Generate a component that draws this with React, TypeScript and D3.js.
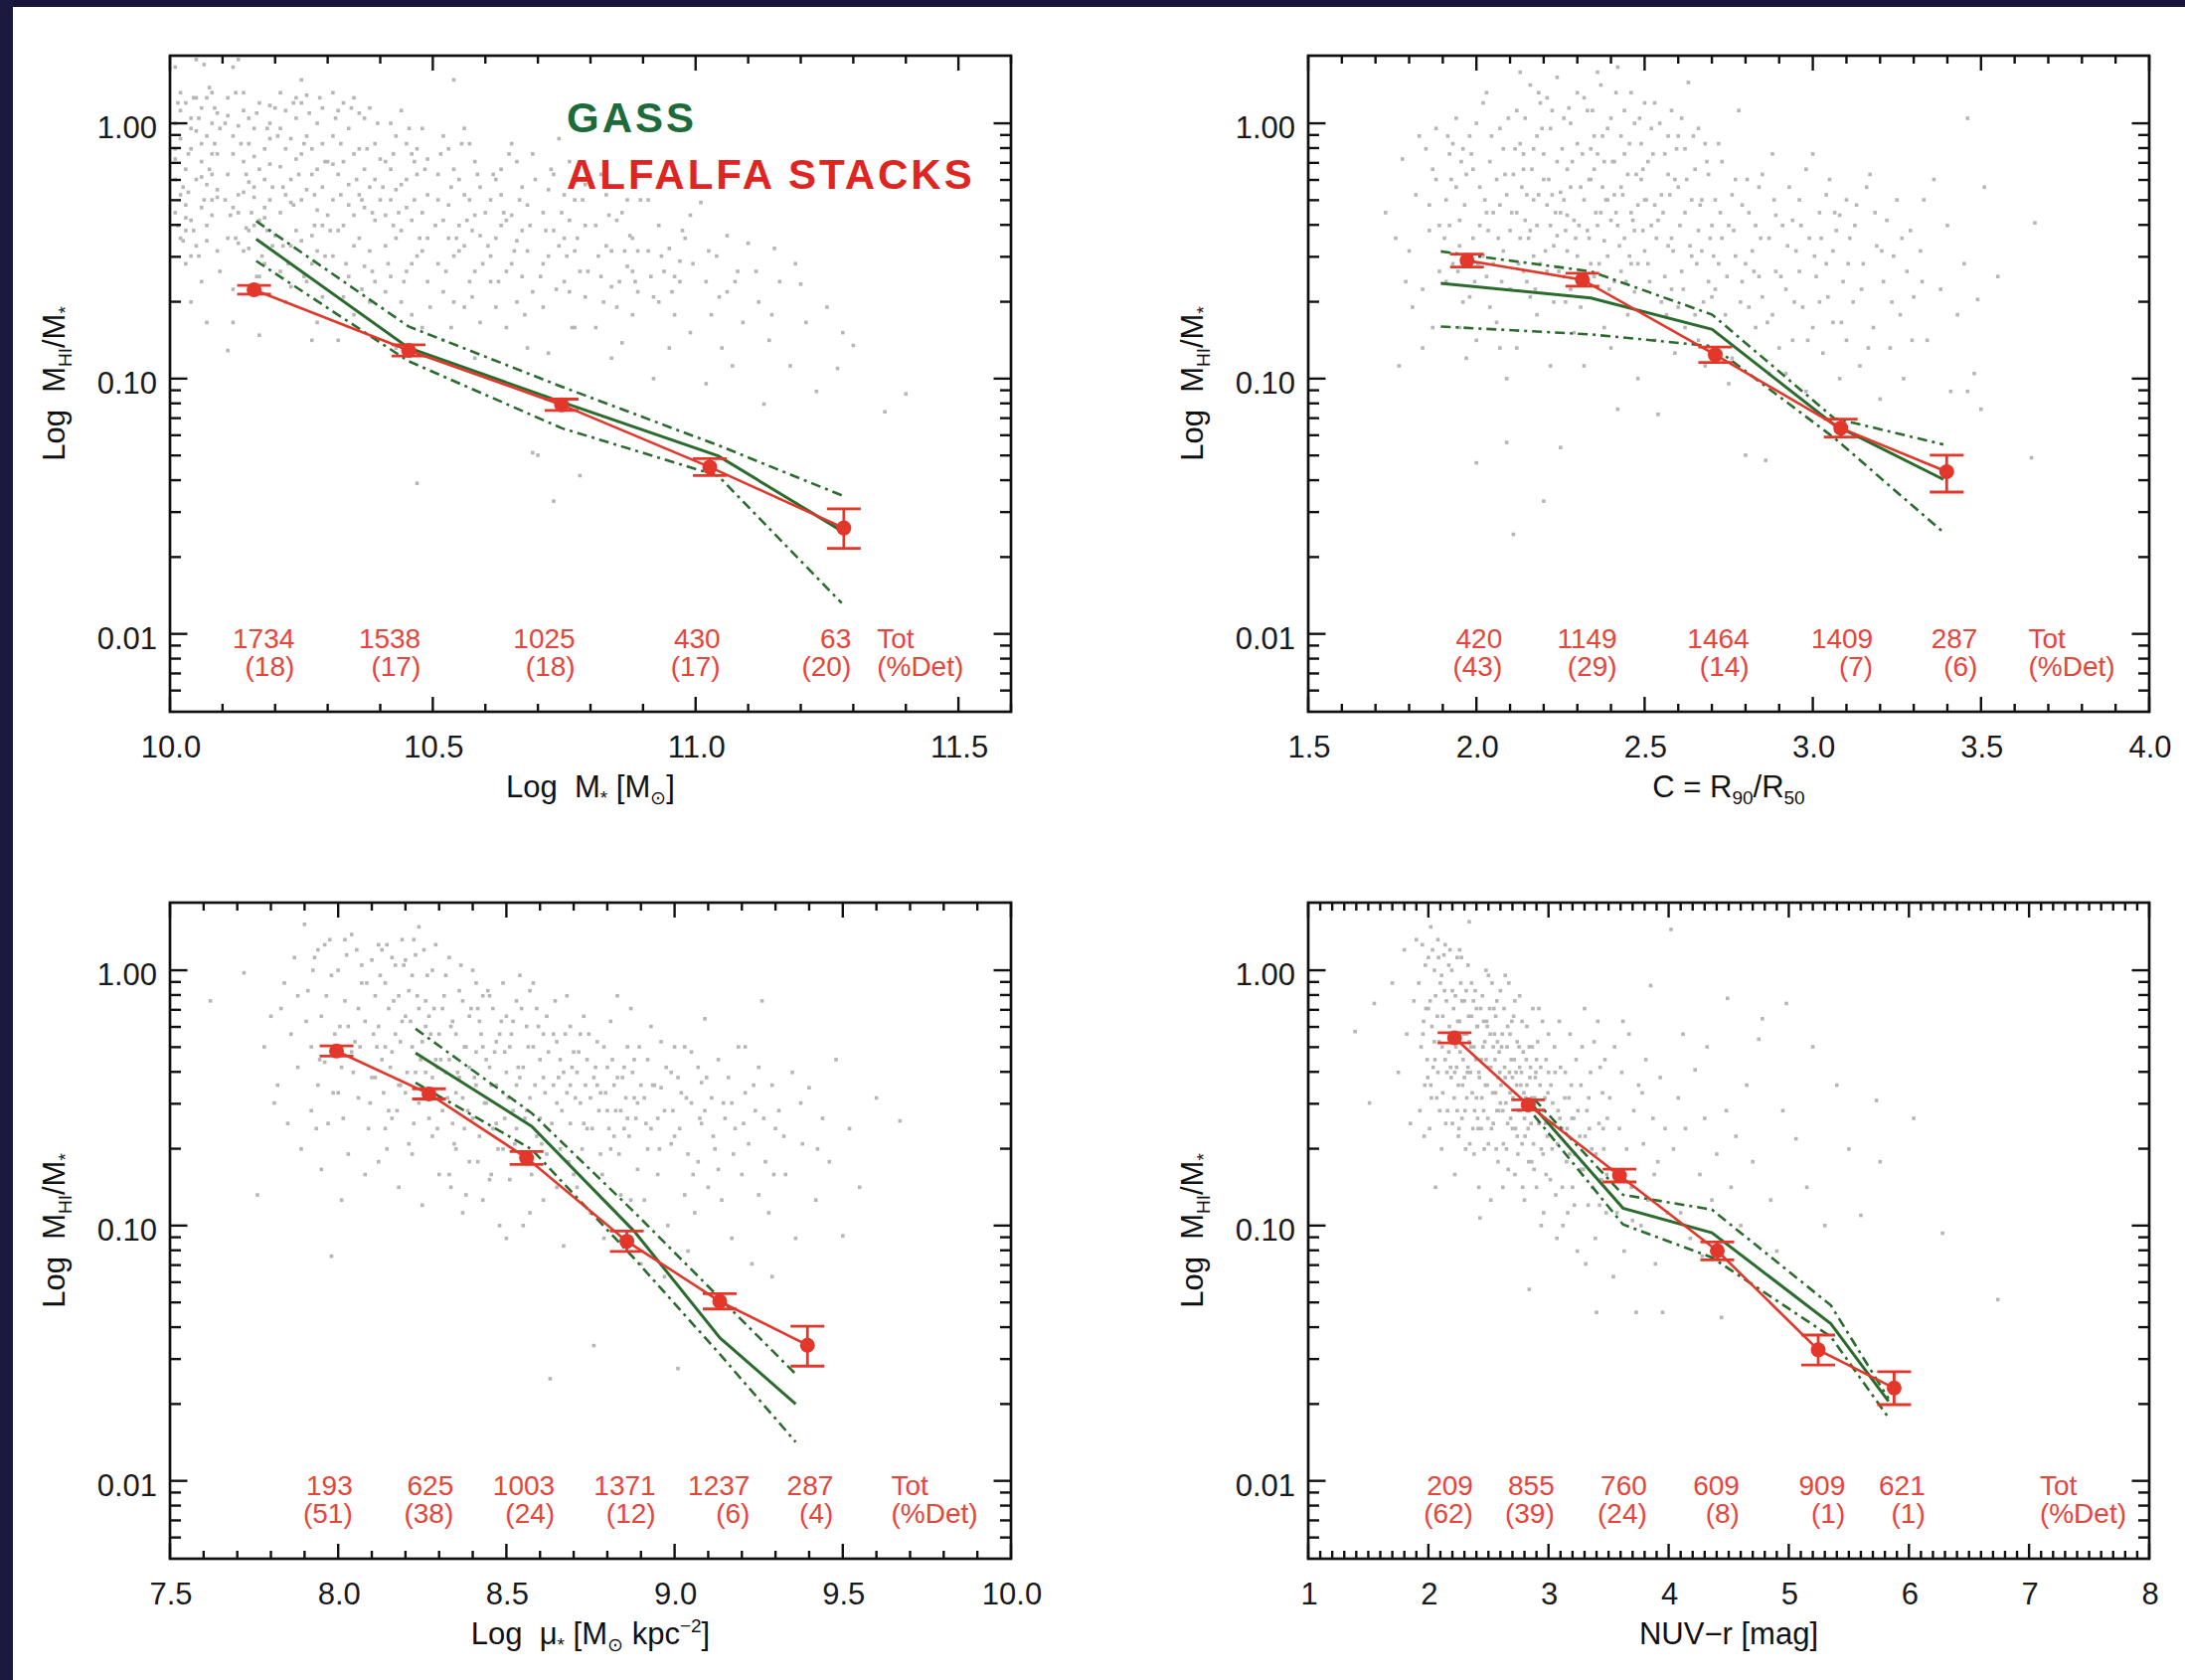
import React from 'react';
import * as d3 from 'd3';

const W = 2198;
const H = 1690;
const FONT = "'Liberation Sans', Arial, Helvetica, sans-serif";
const Y_LOG: [number, number] = [-2.305, 0.265];

// ---------------- tick labels ----------------
const yTickVals = [0.01, 0.1, 1];
const yTickLabels = ['0.01', '0.10', '1.00'];
const p1XTicks = [10.0, 10.5, 11.0, 11.5];
const p1XLabels = ['10.0', '10.5', '11.0', '11.5'];
const p2XTicks = [1.5, 2.0, 2.5, 3.0, 3.5, 4.0];
const p2XLabels = ['1.5', '2.0', '2.5', '3.0', '3.5', '4.0'];
const p3XTicks = [7.5, 8.0, 8.5, 9.0, 9.5, 10.0];
const p3XLabels = ['7.5', '8.0', '8.5', '9.0', '9.5', '10.0'];
const p4XTicks = [1, 2, 3, 4, 5, 6, 7, 8];
const p4XLabels = ['1', '2', '3', '4', '5', '6', '7', '8'];

// ---------------- panel 1: Log M* ----------------
const p1StackX = [10.16, 10.454, 10.745, 11.027, 11.282];
const p1StackF = [0.223, 0.129, 0.079, 0.045, 0.026];
const p1ErrLo = [0.017, 0.022, 0.022, 0.033, 0.08];
const p1ErrHi = [0.017, 0.022, 0.022, 0.033, 0.075];
const p1GassX = [10.164, 10.454, 10.745, 11.043, 11.278];
const p1GassMed = [0.352, 0.132, 0.081, 0.0498, 0.0253];
const p1GassHi = [0.414, 0.16, 0.093, 0.0548, 0.0349];
const p1GassLo = [0.289, 0.117, 0.064, 0.0416, 0.0132];
const p1Counts = ['1734', '1538', '1025', '430', '63'];
const p1Det = ['(18)', '(17)', '(18)', '(17)', '(20)'];
const p1CountX = [10.237, 10.477, 10.771, 11.047, 11.296];
const p1TotX = 11.345;

// ---------------- panel 2: concentration ----------------
const p2StackX = [1.972, 2.315, 2.71, 3.083, 3.398];
const p2StackF = [0.29, 0.244, 0.124, 0.064, 0.0432];
const p2ErrLo = [0.025, 0.025, 0.03, 0.035, 0.08];
const p2ErrHi = [0.025, 0.025, 0.03, 0.035, 0.065];
const p2GassX = [1.894, 2.34, 2.701, 3.063, 3.388];
const p2GassMed = [0.236, 0.207, 0.156, 0.066, 0.0403];
const p2GassHi = [0.315, 0.263, 0.178, 0.07, 0.0552];
const p2GassLo = [0.16, 0.149, 0.134, 0.0587, 0.025];
const p2Counts = ['420', '1149', '1464', '1409', '287'];
const p2Det = ['(43)', '(29)', '(14)', '(7)', '(6)'];
const p2CountX = [2.077, 2.418, 2.811, 3.179, 3.49];
const p2TotX = 3.641;

// ---------------- panel 3: Log mu* ----------------
const p3StackX = [7.995, 8.27, 8.56, 8.858, 9.134, 9.395];
const p3StackF = [0.483, 0.328, 0.184, 0.0868, 0.0505, 0.034];
const p3ErrLo = [0.02, 0.02, 0.025, 0.04, 0.03, 0.082];
const p3ErrHi = [0.02, 0.02, 0.025, 0.04, 0.03, 0.074];
const p3GassX = [8.23, 8.575, 8.88, 9.135, 9.36];
const p3GassMed = [0.474, 0.245, 0.095, 0.0363, 0.02];
const p3GassHi = [0.59, 0.276, 0.113, 0.0519, 0.0262];
const p3GassLo = [0.363, 0.199, 0.0743, 0.0313, 0.0142];
const p3Counts = ['193', '625', '1003', '1371', '1237', '287'];
const p3Det = ['(51)', '(38)', '(24)', '(12)', '(6)', '(4)'];
const p3CountX = [8.043, 8.343, 8.644, 8.944, 9.224, 9.472];
const p3TotX = 9.644;

// ---------------- panel 4: NUV-r ----------------
const p4StackX = [2.218, 2.831, 3.591, 4.405, 5.245, 5.877];
const p4StackF = [0.544, 0.297, 0.157, 0.0796, 0.0326, 0.0231];
const p4ErrLo = [0.02, 0.02, 0.025, 0.035, 0.059, 0.065];
const p4ErrHi = [0.02, 0.02, 0.025, 0.035, 0.058, 0.064];
const p4GassX = [2.88, 3.62, 4.36, 5.35, 5.83];
const p4GassMed = [0.291, 0.117, 0.0938, 0.0413, 0.0205];
const p4GassHi = [0.313, 0.132, 0.1155, 0.0487, 0.021];
const p4GassLo = [0.27, 0.101, 0.075, 0.0367, 0.0177];
const p4Counts = ['209', '855', '760', '609', '909', '621'];
const p4Det = ['(62)', '(39)', '(24)', '(8)', '(1)', '(1)'];
const p4CountX = [2.373, 3.05, 3.82, 4.59, 5.47, 6.136];
const p4TotX = 7.089;

// ---------------- scatter clouds: [x, log10(MHI/M*)] ----------------
const p1Scatter = [
[10.01,0.22],[10.03,-0.42],[10.02,0.05],[10.04,-0.02],[10.01,-0.10],[10.05,0.10],[10.06,-0.33],[10.03,-0.18],[10.07,-0.05],[10.02,-0.28],[10.08,0.12],[10.04,0.02],[10.09,-0.12],[10.01,-0.35],[10.05,-0.22],[10.06,-0.08],[10.03,0.08],[10.08,-0.30],[10.07,-0.46],[10.02,-0.45],[10.09,0.04],[10.04,-0.38],[10.06,-0.15],[10.01,0.00],[10.08,-0.20],[10.05,0.25],[10.03,-0.55],[10.07,-0.40],[10.09,-0.26],[10.02,0.12],[10.06,0.06],[10.04,-0.10],[10.08,0.00],[10.01,-0.22],[10.05,-0.48],[10.07,0.10],[10.03,-0.32],[10.09,-0.29],[10.06,-0.62],[10.02,-0.06],[10.04,-0.52],[10.08,-0.12],[10.05,-0.03],[10.07,-0.24],[10.09,-0.50],[10.03,-0.37],[10.06,-0.21],[10.01,-0.14],[10.08,-0.36],[10.04,-0.70],[10.07,-0.78],
[10.11,0.10],[10.12,-0.05],[10.13,-0.47],[10.14,-0.15],[10.15,0.02],[10.16,-0.25],[10.17,0.08],[10.18,-0.10],[10.19,-0.30],[10.11,-0.20],[10.12,0.22],[10.13,-0.35],[10.14,0.05],[10.15,-0.42],[10.16,-0.02],[10.17,-0.18],[10.18,-0.37],[10.19,-0.06],[10.11,-0.45],[10.12,-0.12],[10.13,-0.28],[10.14,0.12],[10.15,-0.08],[10.16,-0.29],[10.17,-0.38],[10.18,-0.55],[10.19,0.00],[10.11,0.03],[10.12,-0.33],[10.13,-0.01],[10.14,-0.50],[10.15,-0.49],[10.16,-0.13],[10.17,-0.60],[10.18,-0.22],[10.19,0.07],[10.12,-0.65],[10.14,-0.27],[10.16,-0.40],[10.18,-0.33],[10.11,-0.89],[10.17,-0.83],[10.15,-0.23],[10.13,0.25],[10.19,-0.16],[10.20,0.06],[10.20,-0.44],[10.12,-0.78],
[10.21,0.12],[10.22,-0.10],[10.23,-0.22],[10.24,0.02],[10.25,-0.30],[10.26,-0.05],[10.27,-0.44],[10.28,-0.18],[10.29,-0.40],[10.21,-0.35],[10.22,0.05],[10.23,-0.48],[10.24,-0.14],[10.25,0.08],[10.26,-0.26],[10.27,-0.55],[10.28,0.00],[10.29,-0.08],[10.21,-0.02],[10.22,-0.28],[10.23,-0.31],[10.24,-0.42],[10.25,-0.12],[10.26,-0.62],[10.27,-0.20],[10.28,-0.34],[10.29,0.06],[10.21,-0.58],[10.23,-0.06],[10.25,-0.46],[10.27,-0.10],[10.29,-0.25],[10.22,-0.70],[10.24,0.10],[10.26,0.11],[10.28,-0.50],[10.30,-0.15],[10.30,-0.36],[10.27,-0.85],[10.23,-0.64],[10.25,0.17],[10.29,-0.68],[10.21,-0.17],[10.28,-0.78],
[10.31,-0.05],[10.32,-0.20],[10.33,0.08],[10.34,-0.32],[10.35,-0.12],[10.36,-0.45],[10.37,0.02],[10.38,-0.25],[10.39,-0.38],[10.31,-0.52],[10.32,0.05],[10.33,-0.15],[10.34,-0.60],[10.35,0.10],[10.36,-0.28],[10.37,-0.18],[10.38,-0.50],[10.39,-0.08],[10.31,-0.30],[10.32,-0.42],[10.33,-0.68],[10.34,-0.02],[10.35,-0.36],[10.36,-0.10],[10.37,-0.56],[10.38,0.06],[10.39,-0.22],[10.31,-0.16],[10.33,-0.40],[10.35,-0.75],[10.37,-0.33],[10.39,-0.62],[10.32,-0.85],[10.34,-0.24],[10.36,0.04],[10.38,-0.70],[10.40,-0.30],[10.40,-0.14],[10.35,-0.48],[10.31,0.12],
[10.41,-0.15],[10.42,-0.30],[10.43,-0.05],[10.44,-0.42],[10.45,-0.22],[10.46,-0.55],[10.47,-0.10],[10.48,-0.35],[10.49,-0.62],[10.41,-0.48],[10.42,0.00],[10.43,-0.26],[10.44,-0.70],[10.45,-0.08],[10.46,-0.38],[10.47,-0.20],[10.48,-0.80],[10.49,-0.28],[10.41,-0.66],[10.42,-0.18],[10.43,-0.45],[10.44,0.05],[10.45,-0.58],[10.46,-0.12],[10.47,-1.41],[10.48,-0.02],[10.49,-0.45],[10.41,-0.36],[10.43,-0.88],[10.45,-0.33],[10.47,-0.52],[10.49,-0.14],[10.42,-0.60],[10.44,-0.24],[10.46,-0.75],[10.48,-0.50],
[10.51,-0.20],[10.52,-0.38],[10.53,-0.10],[10.54,0.17],[10.55,-0.50],[10.56,-0.28],[10.57,-0.62],[10.58,-0.15],[10.59,-0.44],[10.51,-0.55],[10.52,-0.05],[10.53,-0.32],[10.54,-0.70],[10.55,-0.22],[10.56,-0.48],[10.57,-0.08],[10.58,-0.36],[10.59,-0.78],[10.51,-0.30],[10.52,-0.66],[10.53,-0.45],[10.54,-0.18],[10.55,-0.40],[10.56,-0.02],[10.57,-0.30],[10.58,-0.58],[10.59,-0.25],[10.52,-0.85],[10.54,-0.52],[10.56,-0.72],[10.58,-0.92],[10.60,-0.35],
[10.61,-0.30],[10.62,-0.45],[10.63,-0.18],[10.64,-0.58],[10.65,-0.36],[10.66,-0.70],[10.67,-0.25],[10.68,-0.50],[10.69,-0.12],[10.61,-0.62],[10.62,-0.22],[10.63,-0.40],[10.64,-0.80],[10.65,-0.08],[10.66,-0.46],[10.67,-0.60],[10.68,-0.32],[10.69,-1.29],[10.61,-0.52],[10.62,-0.72],[10.63,-0.28],[10.65,-0.55],[10.66,-0.15],[10.67,-0.42],[10.68,-0.88],[10.69,-0.66],[10.70,-1.30],[10.64,-0.38],
[10.71,-0.35],[10.72,-0.52],[10.73,-0.20],[10.74,-0.06],[10.75,-0.45],[10.76,-0.66],[10.77,-0.30],[10.78,-0.58],[10.79,-0.40],[10.71,-0.72],[10.72,-0.26],[10.73,-1.48],[10.74,-0.48],[10.75,-0.62],[10.76,-0.38],[10.77,-0.80],[10.78,-1.38],[10.79,-0.24],[10.71,-0.55],[10.73,-0.42],[10.75,-0.28],[10.77,-0.50],[10.79,-0.68],[10.72,-0.90],[10.76,-0.15],
[10.81,-0.40],[10.82,-0.60],[10.83,-0.28],[10.84,-0.50],[10.85,-0.72],[10.86,-0.35],[10.87,-0.56],[10.88,-0.45],[10.89,-0.66],[10.81,-0.80],[10.82,-0.20],[10.83,-0.48],[10.84,-0.64],[10.85,-0.38],[10.86,-0.86],[10.87,-0.30],[10.88,-0.58],[10.89,-0.50],[10.84,-0.92],[10.88,-0.75],
[10.91,-0.50],[10.92,-0.68],[10.93,-0.40],[10.94,-0.58],[10.95,-0.49],[10.96,-0.75],[10.97,-0.62],[10.98,-0.45],[10.99,-0.82],[10.91,-0.30],[10.93,-0.70],[10.95,-0.88],[10.97,-0.54],[10.99,-0.36],[10.92,-1.00],[10.96,-0.60],
[11.01,-0.31],[11.02,-0.62],[11.03,-0.75],[11.04,-0.52],[11.05,-0.88],[11.06,-0.66],[11.07,-0.95],[11.08,-0.58],[11.09,-0.78],[11.02,-1.02],[11.06,-0.44],[11.10,-0.47],
[11.12,-0.70],[11.14,-0.85],[11.15,-0.49],[11.16,-0.62],[11.18,-0.95],[11.20,-0.63],[11.21,-0.78],[11.23,-1.05],[11.25,-0.72],[11.27,-0.96],[11.28,-0.82],[11.30,-0.87],[11.13,-1.10],[11.19,-0.55],
[11.36,-1.13],[11.40,-1.06],
[10.015,0.08],[10.025,-0.25],[10.035,-0.27],[10.045,-0.42],[10.055,0.02],[10.065,-0.30],[10.075,0.14],[10.085,-0.08],[10.095,-0.58],[10.015,-0.40],[10.025,-0.46],[10.035,-0.12],[10.045,0.10],[10.055,-0.52],[10.065,0.23],[10.075,-0.18],[10.085,0.06],[10.095,-0.02],
[10.105,-0.30],[10.115,-0.36],[10.125,-0.45],[10.135,-0.08],[10.145,-0.41],[10.155,-0.35],[10.165,0.04],[10.175,-0.52],[10.185,-0.02],[10.195,-0.48],[10.105,0.00],[10.125,0.12],[10.145,-0.20],[10.165,-0.60],[10.185,-0.42],[10.195,-0.25],
[10.205,-0.05],[10.215,-0.48],[10.225,-0.55],[10.235,-0.32],[10.245,-0.20],[10.255,-0.60],[10.265,0.04],[10.275,-0.40],[10.285,0.10],[10.295,-0.15],[10.215,-0.25],[10.235,0.08],[10.255,-0.08],[10.275,-0.28],[10.295,-0.52],
[10.305,-0.42],[10.315,0.02],[10.325,-0.28],[10.335,-0.55],[10.345,0.06],[10.355,-0.22],[10.365,-0.65],[10.375,-0.10],[10.385,-0.35],[10.395,0.00],[10.325,-0.08],[10.365,-0.30],[10.385,-0.58],
[10.405,-0.25],[10.415,-0.55],[10.425,-0.12],[10.435,-0.35],[10.445,-0.62],[10.455,-0.02],[10.465,-0.30],[10.475,-0.45],[10.485,-0.18],[10.495,-0.72],[10.425,-0.40],[10.465,-0.15],
[10.505,-0.40],[10.515,-0.12],[10.525,-0.58],[10.535,-0.25],[10.545,-0.45],[10.555,-0.08],[10.565,-0.38],[10.575,-0.68],[10.585,-0.20],[10.595,-0.55],[10.535,-0.80],[10.575,-0.42],
[10.605,-0.48],[10.615,-0.20],[10.625,-0.62],[10.635,-0.35],[10.645,-0.12],[10.655,-0.50],[10.665,-0.30],[10.675,-0.75],[10.685,-0.40],[10.695,-0.22],
[10.705,-0.60],[10.715,-0.42],[10.725,-0.18],[10.735,-0.65],[10.745,-0.35],[10.755,-0.52],[10.765,-0.80],[10.775,-0.45],[10.785,-0.30],[10.795,-0.58],
[10.815,-0.52],[10.835,-0.36],[10.855,-0.62],[10.875,-0.44],[10.895,-0.30],[10.825,-0.70],[10.865,-0.50],[10.885,-0.62],
[10.915,-0.60],[10.935,-0.52],[10.955,-0.66],[10.975,-0.42],[10.995,-0.55],[11.025,-0.50],[11.045,-0.68],[11.075,-0.62],[11.115,-0.58],[11.145,-0.75]
];

const p2Scatter = [
[1.73,-0.35],[1.77,-0.95],[1.78,-0.14],[1.80,-0.50],[1.82,-0.28],[1.84,-0.65],[1.85,-0.10],[1.86,-0.42],[1.87,-0.80],[1.88,-0.22],[1.89,-0.58],[1.83,-0.05],[1.81,-0.72],[1.86,-0.32],[1.88,-0.02],[1.84,-0.88],[1.89,-0.40],[1.79,-0.62],[1.87,-0.18],[1.76,-0.45],
[1.91,-0.30],[1.92,-0.12],[1.93,-0.55],[1.94,0.02],[1.95,-0.38],[1.96,-0.70],[1.97,-0.20],[1.98,-0.05],[1.99,-0.45],[2.00,-0.85],[2.01,-0.25],[2.02,0.08],[2.03,-0.60],[2.04,-0.15],[2.05,-0.35],[2.06,-0.78],[2.07,-0.02],[2.08,-0.50],[2.09,-0.28],[2.10,-0.65],[1.91,-0.62],[1.93,-0.08],[1.95,-0.48],[1.97,-0.92],[1.99,-0.18],[2.01,-0.40],[2.03,0.12],[2.05,-0.55],[2.07,-0.32],[2.09,-1.00],[1.92,-0.40],[1.94,-0.25],[1.96,-0.10],[1.98,-0.68],[2.00,-1.33],[2.02,-0.52],[2.04,-0.72],[2.06,-0.22],[2.08,-0.10],[2.10,-0.42],[2.09,-1.25],[1.95,-0.80],[2.03,-0.35],[2.07,-0.88],[2.00,0.00],
[2.11,-0.20],[2.12,0.05],[2.13,-0.45],[2.14,-0.12],[2.15,-0.62],[2.16,0.15],[2.17,-0.30],[2.18,-0.05],[2.19,-0.55],[2.20,-0.22],[2.21,0.10],[2.22,-0.40],[2.23,-0.70],[2.24,-0.15],[2.25,-0.35],[2.26,0.02],[2.27,-0.50],[2.28,-0.25],[2.29,-0.82],[2.30,-0.08],[2.11,-1.61],[2.12,-0.35],[2.13,0.20],[2.14,-0.58],[2.15,-0.28],[2.16,-0.42],[2.17,-0.10],[2.18,-0.75],[2.19,0.08],[2.20,-1.48],[2.21,-0.32],[2.22,-0.02],[2.23,-0.48],[2.24,0.18],[2.25,-0.27],[2.26,-0.60],[2.27,-0.18],[2.28,0.00],[2.29,-0.38],[2.30,-0.52],[2.12,-0.88],[2.14,-0.18],[2.16,-0.68],[2.18,-0.40],[2.20,-0.12],[2.22,-0.95],[2.24,-0.44],[2.25,-1.27],[2.26,-0.30],[2.28,-0.65],[2.30,0.12],[2.13,-0.08],[2.17,-0.52],[2.21,-0.58],[2.27,-0.36],
[2.31,-0.25],[2.32,0.10],[2.33,-0.42],[2.34,-0.10],[2.35,-0.60],[2.36,0.20],[2.37,-0.35],[2.38,-0.15],[2.39,-0.52],[2.40,0.02],[2.41,-0.28],[2.42,-1.12],[2.43,-0.05],[2.44,-0.45],[2.45,-0.20],[2.46,0.12],[2.47,-0.66],[2.48,-0.32],[2.49,-0.08],[2.50,-0.50],[2.31,-0.72],[2.32,-0.30],[2.33,0.05],[2.34,-0.55],[2.35,-0.18],[2.36,-0.40],[2.37,0.15],[2.38,-0.80],[2.39,-0.02],[2.40,-0.38],[2.41,-0.62],[2.42,0.22],[2.43,-0.25],[2.44,-0.12],[2.45,-0.75],[2.46,-0.35],[2.47,0.00],[2.48,-0.55],[2.49,-0.22],[2.50,0.08],[2.32,-0.95],[2.34,-0.22],[2.36,-0.12],[2.38,-0.46],[2.40,-0.88],[2.42,-0.40],[2.44,0.05],[2.46,-0.55],[2.48,-1.00],[2.50,-0.30],[2.35,-0.05],[2.39,-0.30],[2.43,-0.58],[2.47,-0.42],[2.41,-0.15],
[2.51,-0.15],[2.52,-0.40],[2.53,0.08],[2.54,-1.14],[2.55,-0.28],[2.56,-0.60],[2.57,-0.05],[2.58,-0.45],[2.59,-0.22],[2.60,-0.72],[2.61,0.02],[2.62,-0.35],[2.63,0.16],[2.64,-0.52],[2.65,-0.18],[2.66,-0.85],[2.67,-0.30],[2.68,-0.08],[2.69,-0.62],[2.70,-0.40],[2.51,-0.55],[2.52,-0.02],[2.53,-0.32],[2.55,-0.70],[2.56,-0.12],[2.57,-0.48],[2.58,0.05],[2.59,-0.90],[2.60,-0.25],[2.61,-0.58],[2.62,-0.10],[2.64,-0.30],[2.65,-0.75],[2.66,-0.02],[2.67,-0.50],[2.68,-0.95],[2.69,-0.20],[2.70,-0.68],[2.54,-0.38],[2.58,-0.65],[2.62,-0.80],[2.66,-0.42],[2.53,-0.85],[2.60,-0.05],[2.57,-0.20],
[2.71,-0.30],[2.72,-0.55],[2.73,-0.15],[2.74,-0.75],[2.75,-0.40],[2.76,-0.92],[2.77,-0.22],[2.78,0.05],[2.79,-0.62],[2.80,-1.30],[2.81,-0.35],[2.82,-0.50],[2.83,-0.80],[2.84,-0.25],[2.85,-0.68],[2.86,-1.32],[2.87,-0.45],[2.88,-0.12],[2.89,-0.58],[2.90,-0.88],[2.71,-0.65],[2.73,-0.45],[2.75,-1.02],[2.77,-0.52],[2.79,-0.32],[2.81,-0.72],[2.83,-0.40],[2.85,-0.20],[2.87,-0.98],[2.89,-0.36],[2.72,-0.08],[2.76,-0.28],[2.80,-0.55],[2.84,-0.60],[2.88,-0.75],
[2.91,-0.40],[2.92,-0.65],[2.93,-0.25],[2.94,-0.85],[2.95,-0.50],[2.96,-0.30],[2.97,-0.72],[2.98,-1.05],[2.99,-0.45],[3.00,-0.12],[3.01,-0.60],[3.02,-0.35],[3.03,-0.90],[3.04,-0.55],[3.05,-0.22],[3.06,-0.78],[3.07,-0.42],[3.08,-1.00],[3.09,-0.62],[3.10,-0.30],[2.92,-0.98],[2.94,-0.38],[2.96,-0.58],[2.98,-0.18],[3.00,-0.80],[3.02,-0.70],[3.04,-0.28],[3.06,-0.50],[3.08,-0.36],[3.10,-0.85],
[3.11,-0.45],[3.12,-0.70],[3.13,-0.32],[3.14,-0.95],[3.15,-0.55],[3.16,-0.25],[3.17,-0.20],[3.18,-0.80],[3.19,-0.48],[3.20,-1.08],[3.21,-0.62],[3.22,-0.38],[3.23,-0.88],[3.24,-0.52],[3.25,-0.30],[3.26,-0.75],[3.27,-1.00],[3.28,-0.58],[3.29,-0.42],[3.30,-0.68],
[3.32,-0.50],[3.34,-0.85],[3.36,-0.22],[3.38,-0.65],[3.40,-0.40],[3.41,-1.05],[3.43,-0.75],[3.45,-0.55],[3.46,0.02],[3.46,-1.05],[3.48,-0.98],[3.49,-0.69],[3.50,-1.12],[3.51,-0.25],[3.55,-0.60],[3.65,-1.31],[3.66,-0.39],[3.33,-0.30],
[1.905,-0.45],[1.925,-0.22],[1.945,-0.58],[1.965,-0.32],[1.985,-0.12],[2.005,-0.55],[2.025,-0.30],[2.045,-0.05],[2.065,-0.45],[2.085,-0.20],[1.915,-0.05],[1.955,-0.15],[1.995,-0.62],[2.035,-0.42],[2.075,-0.62],[2.095,0.02],
[2.105,-0.35],[2.115,-0.10],[2.125,-0.55],[2.135,-0.25],[2.145,0.02],[2.155,-0.45],[2.165,-0.18],[2.175,-0.65],[2.185,-0.28],[2.195,-0.02],[2.205,-0.50],[2.215,-0.22],[2.225,0.05],[2.235,-0.35],[2.245,-0.58],[2.255,-0.10],[2.265,-0.42],[2.275,0.06],[2.285,-0.15],[2.295,-0.45],[2.145,-0.38],[2.185,0.12],[2.225,-0.28],[2.265,-0.70],
[2.305,-0.40],[2.315,-0.12],[2.325,-0.60],[2.335,-0.22],[2.345,0.05],[2.355,-0.35],[2.365,-0.55],[2.375,-0.05],[2.385,-0.30],[2.395,-0.65],[2.405,-0.15],[2.415,0.12],[2.425,-0.48],[2.435,-0.28],[2.445,-0.62],[2.455,-0.08],[2.465,-0.38],[2.475,-0.20],[2.485,0.02],[2.495,-0.42],[2.335,-0.45],[2.375,-0.25],[2.415,-0.35],[2.455,-0.52],[2.495,-0.18],
[2.505,-0.30],[2.515,-0.62],[2.525,-0.12],[2.535,-0.45],[2.545,0.00],[2.555,-0.35],[2.565,-0.75],[2.575,-0.28],[2.585,-0.50],[2.595,-0.10],[2.605,-0.40],[2.615,-0.65],[2.625,-0.22],[2.635,-0.48],[2.645,-0.05],[2.655,-0.55],[2.665,-0.32],[2.675,-0.70],[2.685,-0.15],[2.695,-0.45],
[2.705,-0.52],[2.725,-0.35],[2.745,-0.60],[2.765,-0.42],[2.785,-0.70],[2.805,-0.22],[2.825,-0.58],[2.845,-0.45],[2.865,-0.78],[2.885,-0.30],[2.905,-0.60],[2.925,-0.48],[2.945,-0.70],[2.965,-0.40],[2.985,-0.85],[3.005,-0.52],[3.025,-0.45],[3.045,-0.68],[3.065,-0.35],[3.085,-0.78],[3.105,-0.55],[3.125,-0.40],[3.145,-0.65],[3.165,-0.88],[3.185,-0.35],[3.205,-0.50],[3.235,-0.70],[3.265,-0.45],[3.295,-0.85],[3.325,-0.62]
];

const p3Scatter = [
[7.62,-0.12],[7.72,-0.01],[7.76,-0.88],[7.78,-0.30],[7.80,-0.18],[7.82,-0.45],[7.84,-0.05],[7.85,-0.60],[7.86,-0.25],[7.87,0.05],[7.88,-0.38],[7.89,-0.70],[7.83,-0.15],[7.81,-0.52],[7.88,-0.10],
[7.90,0.18],[7.91,-0.08],[7.92,-0.30],[7.93,0.05],[7.94,-0.45],[7.95,-0.18],[7.96,0.10],[7.97,-0.60],[7.98,-1.12],[7.99,-0.25],[8.00,0.00],[8.01,-0.38],[8.02,-0.12],[8.03,-0.72],[8.04,0.14],[8.05,-0.28],[8.06,-0.50],[8.07,-0.05],[8.08,-0.20],[8.09,-0.62],[8.10,0.04],[7.92,-0.55],[7.94,0.08],[7.96,-0.36],[7.98,-0.02],[8.00,-0.48],[8.02,0.12],[8.04,-0.32],[8.06,-0.15],[8.08,-0.80],[8.10,-0.42],[7.95,-0.78],[8.01,-0.90],[8.07,0.02],[8.03,-0.22],
[8.11,-0.10],[8.12,0.10],[8.13,-0.35],[8.14,-0.05],[8.15,-0.55],[8.16,0.05],[8.17,-0.25],[8.18,-0.45],[8.19,0.12],[8.20,-0.18],[8.21,-0.68],[8.22,-0.02],[8.23,-0.40],[8.24,0.17],[8.25,-0.28],[8.26,-0.12],[8.27,-0.58],[8.28,0.00],[8.29,-0.35],[8.30,-0.80],[8.11,-0.42],[8.12,-0.22],[8.13,0.08],[8.14,-0.62],[8.15,-0.15],[8.16,-0.32],[8.17,0.02],[8.18,-0.85],[8.19,-0.20],[8.20,-0.48],[8.21,-0.08],[8.22,-0.30],[8.23,0.06],[8.24,-0.52],[8.25,-0.92],[8.26,-0.40],[8.27,-0.18],[8.28,-0.65],[8.29,0.10],[8.30,-0.25],[8.12,-0.75],[8.16,-0.58],[8.20,0.04],[8.24,-0.15],[8.28,-0.42],[8.14,-0.30],[8.18,-0.10],[8.22,-0.72],[8.26,-0.22],[8.30,-0.50],
[8.31,-0.15],[8.32,-0.40],[8.33,0.05],[8.34,-0.60],[8.35,-0.25],[8.36,-0.08],[8.37,-0.50],[8.38,-0.30],[8.39,-0.75],[8.40,0.00],[8.41,-0.45],[8.42,-0.20],[8.43,-0.90],[8.44,-0.35],[8.45,-0.10],[8.46,-0.62],[8.47,-0.28],[8.48,-1.00],[8.49,-0.48],[8.50,-0.18],[8.31,-0.55],[8.32,-0.02],[8.33,-0.35],[8.34,-0.20],[8.35,-0.70],[8.36,-0.42],[8.37,-0.12],[8.38,-0.88],[8.39,-0.38],[8.40,-0.58],[8.41,-0.05],[8.42,-0.65],[8.43,-0.30],[8.44,-0.52],[8.45,-0.82],[8.46,-0.15],[8.47,-0.45],[8.48,-0.25],[8.49,-0.70],[8.50,-0.40],[8.33,-0.80],[8.37,-0.95],[8.41,-0.32],[8.45,-0.38],[8.49,-0.05],[8.35,-0.48],[8.39,-0.18],[8.43,-0.10],[8.47,-0.60],[8.50,-1.05],
[8.51,-0.30],[8.52,-0.55],[8.53,-0.12],[8.54,-0.42],[8.55,-0.75],[8.56,-0.22],[8.57,-0.50],[8.58,-0.05],[8.59,-0.65],[8.60,-0.35],[8.61,-0.90],[8.62,-0.18],[8.63,-1.60],[8.64,-0.45],[8.65,-0.28],[8.66,-0.70],[8.67,-0.40],[8.68,-0.10],[8.69,-0.60],[8.70,-0.32],[8.51,-0.82],[8.52,-0.20],[8.53,-0.62],[8.54,-0.02],[8.55,-0.38],[8.56,-0.55],[8.57,-0.95],[8.58,-0.30],[8.59,-0.15],[8.60,-0.58],[8.61,-0.42],[8.62,-0.72],[8.64,-0.25],[8.65,-0.52],[8.66,-0.35],[8.67,-1.08],[8.68,-0.48],[8.69,-0.22],[8.70,-0.80],[8.53,-0.45],[8.57,-0.08],[8.61,-0.25],[8.65,-0.85],[8.69,-0.45],[8.55,-1.00],
[8.71,-0.40],[8.72,-0.25],[8.73,-0.60],[8.74,-0.35],[8.75,-0.50],[8.76,-1.47],[8.77,-0.45],[8.78,-0.72],[8.79,-0.30],[8.80,-0.55],[8.81,-0.20],[8.82,-0.65],[8.83,-0.42],[8.84,-0.88],[8.85,-0.38],[8.86,-0.58],[8.87,-0.15],[8.88,-0.50],[8.89,-0.78],[8.90,-0.45],[8.71,-0.85],[8.72,-0.52],[8.73,-0.18],[8.74,-0.62],[8.75,-0.95],[8.77,-0.28],[8.78,-0.48],[8.79,-1.05],[8.80,-0.38],[8.81,-0.70],[8.82,-0.45],[8.83,-0.10],[8.84,-0.55],[8.85,-0.62],[8.86,-0.30],[8.87,-0.90],[8.88,-0.35],[8.89,-0.52],[8.90,-1.15],[8.76,-0.42],
[8.91,-0.50],[8.92,-0.35],[8.93,-0.62],[8.94,-0.45],[8.95,-0.80],[8.96,-0.28],[8.97,-0.55],[8.98,-1.00],[8.99,-0.40],[9.00,-0.65],[9.01,-1.56],[9.02,-0.48],[9.03,-0.30],[9.04,-0.72],[9.05,-0.52],[9.06,-0.95],[9.07,-0.38],[9.08,-0.60],[9.09,-0.19],[9.10,-0.85],[8.91,-0.90],[8.93,-0.22],[8.95,-0.58],[8.97,-1.20],[8.99,-0.68],[9.01,-0.42],[9.03,-0.88],[9.05,-0.32],[9.07,-0.75],[9.09,-0.55],[8.92,-0.70],[8.96,-0.46],[9.00,-0.30],[9.04,-1.10],[9.08,-0.44],
[9.11,-0.50],[9.12,-0.70],[9.13,-0.35],[9.14,-0.90],[9.15,-0.58],[9.16,-0.42],[9.17,-1.05],[9.18,-0.62],[9.19,-0.30],[9.20,-0.80],[9.21,-0.48],[9.22,-0.68],[9.23,-1.15],[9.24,-0.55],[9.25,-0.38],[9.26,-0.12],[9.27,-0.75],[9.28,-0.95],[9.29,-0.45],[9.30,-0.62],[9.13,-0.78],[9.17,-0.52],[9.21,-0.30],[9.25,-0.88],[9.29,-1.20],
[9.31,-0.55],[9.33,-0.80],[9.35,-0.40],[9.36,-1.05],[9.38,-0.68],[9.40,-0.46],[9.42,-0.90],[9.44,-0.58],[9.46,-0.75],[9.48,-0.35],[9.50,-1.04],[9.52,-0.62],[9.55,-0.85],[9.60,-0.50],[9.67,-0.59],
[7.905,-0.20],[7.925,0.00],[7.945,-0.35],[7.965,-0.10],[7.985,-0.48],[8.005,-0.22],[8.025,0.06],[8.045,-0.40],[8.065,-0.30],[8.085,-0.05],[8.105,-0.25],[7.935,-0.62],[7.975,0.12],[8.015,-0.58],[8.055,0.08],[8.095,-0.52],
[8.115,-0.30],[8.125,-0.02],[8.135,-0.48],[8.145,0.10],[8.155,-0.38],[8.165,-0.12],[8.175,-0.55],[8.185,-0.28],[8.195,0.02],[8.205,-0.40],[8.215,-0.20],[8.225,-0.60],[8.235,-0.10],[8.245,-0.35],[8.255,0.08],[8.265,-0.50],[8.275,-0.25],[8.285,-0.15],[8.295,-0.62],[8.145,-0.70],[8.185,-0.45],[8.225,0.12],[8.265,-0.02],[8.295,-0.38],
[8.305,-0.35],[8.315,-0.10],[8.325,-0.50],[8.335,-0.22],[8.345,-0.68],[8.355,-0.40],[8.365,0.02],[8.375,-0.30],[8.385,-0.55],[8.395,-0.15],[8.405,-0.42],[8.415,-0.75],[8.425,-0.25],[8.435,-0.52],[8.445,-0.08],[8.455,-0.45],[8.465,-0.32],[8.475,-0.70],[8.485,-0.20],[8.495,-0.58],[8.335,-0.85],[8.375,-0.62],[8.415,-0.15],[8.455,-0.80],[8.495,-0.32],
[8.505,-0.50],[8.515,-0.25],[8.525,-0.68],[8.535,-0.38],[8.545,-0.15],[8.555,-0.58],[8.565,-0.30],[8.575,-0.80],[8.585,-0.45],[8.595,-0.22],[8.605,-0.68],[8.615,-0.48],[8.625,-0.32],[8.635,-0.60],[8.645,-0.12],[8.655,-0.42],[8.665,-0.55],[8.675,-0.25],[8.685,-0.75],[8.695,-0.38],
[8.705,-0.50],[8.715,-0.32],[8.725,-0.70],[8.735,-0.45],[8.745,-0.25],[8.755,-0.62],[8.765,-0.38],[8.775,-0.55],[8.785,-0.80],[8.795,-0.48],[8.805,-0.62],[8.815,-0.35],[8.825,-0.55],[8.835,-0.72],[8.845,-0.42],[8.855,-0.50],[8.865,-0.65],[8.875,-0.40],[8.885,-0.58],[8.895,-0.30],
[8.915,-0.60],[8.935,-0.45],[8.955,-0.70],[8.975,-0.38],[8.995,-0.55],[9.015,-0.62],[9.035,-0.50],[9.055,-0.80],[9.075,-0.58],[9.095,-0.42],[9.115,-0.65],[9.145,-0.52],[9.175,-0.72],[9.205,-0.60],[9.235,-0.45],[9.265,-0.58],[9.295,-0.80],[9.325,-0.65],[9.375,-0.52],[9.425,-0.70]
];

const p4Scatter = [
[1.39,-0.24],[1.51,-0.52],[1.55,-0.13],[1.70,-0.05],[1.75,-0.40],[1.80,0.08],[1.82,-0.25],[1.85,-0.60],[1.88,-0.12],[1.90,0.12],
[1.92,-0.05],[1.94,-0.30],[1.95,0.10],[1.97,-0.45],[1.98,-0.15],[2.00,0.05],[2.01,-0.62],[2.02,0.17],[2.03,-0.22],[2.04,-0.38],[2.05,0.00],[2.06,-0.10],[2.07,-0.50],[2.08,0.12],[2.09,-0.28],[2.10,-0.05],[2.11,-0.70],[2.12,-0.18],[2.13,0.06],[2.14,-0.35],[2.15,-0.12],[2.16,-0.55],[2.17,0.02],[2.18,-0.25],[2.19,-0.42],[2.20,-0.08],[1.93,-0.55],[1.96,-0.20],[1.99,-0.35],[2.02,-0.45],[2.05,-0.28],[2.08,-0.40],[2.11,-0.02],[2.14,0.10],[2.17,-0.32],[2.20,-0.60],[2.06,-0.85],[2.12,-0.48],[2.18,0.08],[2.00,-0.15],
[2.21,-0.15],[2.22,-0.80],[2.23,-0.30],[2.24,0.05],[2.25,-0.45],[2.26,-0.20],[2.27,-0.05],[2.28,-0.58],[2.29,-0.35],[2.30,-0.12],[2.31,-0.70],[2.32,-0.25],[2.33,0.02],[2.34,0.19],[2.35,-0.40],[2.36,-0.18],[2.37,-0.62],[2.38,-0.30],[2.39,-0.08],[2.40,-0.50],[2.41,-0.22],[2.42,-0.85],[2.43,-0.97],[2.44,-0.35],[2.45,-0.10],[2.46,-0.55],[2.47,-0.28],[2.48,0.00],[2.49,-0.45],[2.50,-0.68],[2.51,-0.15],[2.52,-0.38],[2.53,-0.05],[2.54,-0.60],[2.55,-0.25],[2.56,-0.48],[2.57,-0.12],[2.58,-0.75],[2.59,-0.32],[2.60,-0.52],[2.22,-0.40],[2.24,-0.55],[2.26,0.08],[2.28,-0.12],[2.30,-0.42],[2.32,-0.50],[2.34,-0.28],[2.36,-0.05],[2.38,-0.72],[2.40,-0.15],[2.42,-0.40],[2.44,-0.62],[2.46,-0.20],[2.48,-0.35],[2.50,-0.02],[2.52,-0.90],[2.54,-0.30],[2.56,-0.18],[2.58,-0.42],[2.60,-0.08],[2.25,-0.65],[2.33,-0.38],[2.41,-0.58],[2.49,-0.22],[2.57,-0.55],
[2.61,-0.30],[2.62,-0.55],[2.63,-0.15],[2.64,-0.42],[2.65,-0.70],[2.66,-0.22],[2.67,-0.05],[2.68,-0.48],[2.69,-0.35],[2.70,-0.62],[2.71,-0.18],[2.72,-0.80],[2.73,-0.40],[2.74,-0.28],[2.75,-0.55],[2.76,-0.10],[2.77,-0.45],[2.78,-0.68],[2.79,-0.32],[2.80,-0.90],[2.81,-0.50],[2.82,-0.22],[2.83,-0.62],[2.84,-1.25],[2.85,-0.38],[2.86,-0.75],[2.87,-0.15],[2.88,-0.52],[2.89,-0.42],[2.90,-0.85],[2.91,-0.28],[2.92,-0.60],[2.93,-0.45],[2.94,-0.70],[2.95,-0.20],[2.96,-0.95],[2.97,-0.50],[2.98,-0.35],[2.99,-0.65],[3.00,-0.40],[2.62,-0.85],[2.64,-0.02],[2.66,-0.60],[2.68,-0.25],[2.70,-0.42],[2.72,-0.12],[2.74,-0.65],[2.76,-0.38],[2.78,-0.20],[2.80,-0.58],[2.82,-0.45],[2.84,-0.30],[2.86,-0.50],[2.88,-0.78],[2.90,-0.35],[2.92,-0.15],[2.94,-1.00],[2.96,-0.55],[2.98,-0.80],[3.00,-0.25],
[3.02,-0.45],[3.03,-0.70],[3.05,-0.30],[3.06,-0.88],[3.08,-0.55],[3.09,-0.20],[3.11,-0.62],[3.12,-1.00],[3.14,-0.40],[3.15,-0.75],[3.17,-0.50],[3.18,-0.25],[3.20,-0.85],[3.21,-0.58],[3.23,-0.35],[3.24,-1.10],[3.26,-0.65],[3.27,-0.45],[3.29,-0.78],[3.30,-0.15],[3.32,-0.55],[3.33,-0.92],[3.35,-0.40],[3.36,-0.70],[3.38,-0.28],[3.39,-1.05],[3.40,-1.34],[3.42,-0.60],[3.44,-0.82],[3.45,-0.48],[3.47,-0.35],[3.48,-0.95],[3.04,-0.60],[3.10,-0.38],[3.16,-0.95],[3.22,-0.72],[3.28,-0.30],[3.34,-0.62],[3.41,-0.20],[3.46,-0.70],[3.07,-1.05],[3.19,-0.45],[3.31,-1.15],[3.43,-0.38],[3.49,-0.58],
[3.51,-0.50],[3.53,-0.78],[3.55,-0.30],[3.57,-0.95],[3.59,-0.62],[3.61,-0.40],[3.63,-1.10],[3.65,-0.70],[3.67,-0.25],[3.69,-0.85],[3.71,-0.55],[3.73,-1.34],[3.75,-0.45],[3.77,-1.00],[3.79,-0.68],[3.81,-0.35],[3.83,-0.90],[3.85,-0.06],[3.87,-0.58],[3.89,-1.15],[3.91,-0.75],[3.93,-0.42],[3.95,-1.34],[3.97,-0.62],[3.99,-0.95],[3.54,-1.20],[3.62,-0.20],[3.70,-0.98],[3.78,-0.48],[3.88,-0.80],
[4.02,0.16],[4.04,-0.70],[4.08,-0.50],[4.10,-0.95],[4.14,-0.62],[4.18,-1.05],[4.22,-0.39],[4.26,-0.80],[4.30,-0.58],[4.32,-0.30],[4.36,-0.90],[4.40,-0.72],[4.44,-1.36],[4.48,-0.55],[4.49,-0.11],[4.52,-0.85],[4.56,-0.65],[4.60,-1.00],[4.12,-0.25],[4.28,-1.12],
[4.70,-0.75],[4.75,-0.27],[4.78,-0.19],[4.85,-0.90],[4.95,-0.55],[4.98,-0.13],[5.06,-0.66],[5.15,-0.85],[5.30,-1.00],[5.40,-0.45],[5.60,-0.96],[5.73,-0.51],[5.76,-0.75],[6.04,-0.58],[6.28,-1.03],[6.74,-1.29],[5.20,-0.30],[4.65,-0.45],[5.50,-0.70],[4.90,-1.10],
[1.955,-0.25],[1.975,0.02],[1.995,-0.42],[2.015,-0.12],[2.035,0.08],[2.055,-0.35],[2.075,-0.18],[2.095,-0.55],[2.115,-0.30],[2.135,-0.08],[2.155,-0.40],[2.175,-0.22],[2.195,0.00],[1.965,-0.65],[2.025,-0.50],[2.085,0.05],[2.145,-0.60],[2.185,-0.38],
[2.205,-0.28],[2.215,-0.50],[2.225,-0.10],[2.235,-0.38],[2.245,-0.20],[2.255,-0.62],[2.265,-0.32],[2.275,0.05],[2.285,-0.45],[2.295,-0.25],[2.305,-0.55],[2.315,-0.08],[2.325,-0.40],[2.335,-0.18],[2.345,-0.68],[2.355,-0.30],[2.365,-0.48],[2.375,-0.12],[2.385,-0.55],[2.395,-0.35],[2.405,-0.22],[2.415,-0.62],[2.425,-0.42],[2.435,-0.15],[2.445,-0.50],[2.455,-0.30],[2.465,-0.70],[2.475,-0.45],[2.485,-0.20],[2.495,-0.58],[2.505,-0.38],[2.515,-0.25],[2.525,-0.62],[2.535,-0.48],[2.545,-0.15],[2.555,-0.35],[2.565,-0.70],[2.575,-0.28],[2.585,-0.55],[2.595,-0.40],
[2.605,-0.45],[2.615,-0.25],[2.625,-0.68],[2.635,-0.38],[2.645,-0.52],[2.655,-0.30],[2.665,-0.78],[2.675,-0.40],[2.685,-0.58],[2.695,-0.20],[2.705,-0.50],[2.715,-0.35],[2.725,-0.62],[2.735,-0.45],[2.745,-0.72],[2.755,-0.30],[2.765,-0.55],[2.775,-0.40],[2.785,-0.85],[2.795,-0.48],[2.805,-0.65],[2.815,-0.35],[2.825,-0.52],[2.835,-0.75],[2.845,-0.42],[2.855,-0.60],[2.865,-0.30],[2.875,-0.68],[2.885,-0.50],[2.895,-0.40],
[2.915,-0.55],[2.935,-0.38],[2.955,-0.72],[2.975,-0.60],[2.995,-0.48],[3.015,-0.82],[3.035,-0.52],[3.055,-0.40],[3.075,-0.68],[3.095,-0.58],[3.115,-0.85],[3.135,-0.50],[3.155,-0.62],[3.175,-0.72],[3.195,-0.58],[3.215,-0.92],[3.245,-0.55],[3.275,-0.78],[3.305,-0.65],[3.335,-0.50],[3.365,-0.85],[3.395,-0.72],[3.425,-0.92],[3.455,-0.62],[3.485,-0.80]
];

// ---------------- axis titles (text segments) ----------------
type Seg = { t: string; s?: 'sub' | 'sup' };
const yTitleSegs: Seg[] = [{ t: 'Log\u00A0\u00A0M' }, { t: 'HI', s: 'sub' }, { t: '/M' }, { t: '*', s: 'sub' }];
const p1TitleSegs: Seg[] = [{ t: 'Log\u00A0\u00A0M' }, { t: '*', s: 'sub' }, { t: '\u00A0[M' }, { t: '\u2299', s: 'sub' }, { t: ']' }];
const p2TitleSegs: Seg[] = [{ t: 'C\u00A0=\u00A0R' }, { t: '90', s: 'sub' }, { t: '/R' }, { t: '50', s: 'sub' }];
const p3TitleSegs: Seg[] = [{ t: 'Log\u00A0\u00A0\u03BC' }, { t: '*', s: 'sub' }, { t: '\u00A0[M' }, { t: '\u2299', s: 'sub' }, { t: '\u00A0kpc' }, { t: '\u22122', s: 'sup' }, { t: ']' }];
const p4TitleSegs: Seg[] = [{ t: 'NUV\u2212r\u00A0[mag]' }];

// ---------------- colors ----------------
const RED = '#e3372b';
const RED_TXT = '#e6453c';
const GREEN = '#2b6b2d';
const DOT = '#b6b6b6';

function renderSegs(segs: Seg[]) {
  let cur = 0;
  return segs.map((g, i) => {
    const target = g.s === 'sub' ? 7 : g.s === 'sup' ? -12 : 0;
    const dy = target - cur;
    cur = target;
    return (
      <tspan key={i} dy={dy !== 0 ? dy : undefined} fontSize={g.s ? 19 : undefined}>
        {g.t}
      </tspan>
    );
  });
}

type Box = { x0: number; x1: number; y0: number; y1: number };

interface PanelProps {
  id: string;
  box: Box;
  xDomain: [number, number];
  xMajor: number;
  xTicks: number[];
  xLabels: string[];
  scatter: number[][];
  stackX: number[];
  stackF: number[];
  errLo: number[];
  errHi: number[];
  gassX: number[];
  gassMed: number[];
  gassHi: number[];
  gassLo: number[];
  counts: string[];
  dets: string[];
  countX: number[];
  totX: number;
  xTitle: Seg[];
}

function Panel(p: PanelProps) {
  const { x0, x1, y0, y1 } = p.box;
  const x = d3.scaleLinear().domain(p.xDomain).range([x0, x1]);
  const y = d3.scaleLog().domain([Math.pow(10, Y_LOG[0]), Math.pow(10, Y_LOG[1])]).range([y1, y0]);
  const line = d3
    .line<number[]>()
    .x((d) => x(d[0]))
    .y((d) => y(d[1]));
  const zip = (a: number[], b: number[]) => a.map((v, i) => [v, b[i]]);

  const yMinor: { v: number; major: boolean }[] = [];
  for (let e = -3; e <= 0; e++) {
    for (let m = 1; m <= 9; m++) {
      const v = m * Math.pow(10, e);
      const lv = Math.log10(v);
      if (lv > Y_LOG[0] + 0.006 && lv < Y_LOG[1]) yMinor.push({ v, major: m === 1 });
    }
  }
  const xMinor = d3
    .range(Math.round(p.xDomain[0] * 10), Math.round(p.xDomain[1] * 10) + 1)
    .map((i) => i / 10)
    .map((v) => ({ v, major: Math.abs(v / p.xMajor - Math.round(v / p.xMajor)) < 1e-6 }));

  const tickW = 2.4;
  const cy = (y0 + y1) / 2;
  const cx = (x0 + x1) / 2;

  return (
    <g>
      <defs>
        <clipPath id={p.id}>
          <rect x={x0} y={y0} width={x1 - x0} height={y1 - y0} />
        </clipPath>
      </defs>
      <g clipPath={`url(#${p.id})`}>
        {p.scatter.map((d, i) => (
          <rect key={i} x={x(d[0]) - 1.8} y={y(Math.pow(10, d[1])) - 1.8} width={3.6} height={3.6} fill={DOT} />
        ))}
      </g>
      <path d={line(zip(p.gassX, p.gassHi)) || ''} fill="none" stroke={GREEN} strokeWidth={2.6} strokeDasharray="10,5,3,5" />
      <path d={line(zip(p.gassX, p.gassLo)) || ''} fill="none" stroke={GREEN} strokeWidth={2.6} strokeDasharray="10,5,3,5" />
      <path d={line(zip(p.gassX, p.gassMed)) || ''} fill="none" stroke={GREEN} strokeWidth={3} />
      <path d={line(zip(p.stackX, p.stackF)) || ''} fill="none" stroke={RED} strokeWidth={2.6} />
      {p.stackX.map((xv, i) => {
        const f = p.stackF[i];
        const yt = y(f * Math.pow(10, p.errHi[i]));
        const yb = y(f / Math.pow(10, p.errLo[i]));
        const px = x(xv);
        return (
          <g key={i} stroke={RED} strokeWidth={2.8}>
            <line x1={px} x2={px} y1={yt} y2={yb} />
            <line x1={px - 17} x2={px + 17} y1={yt} y2={yt} />
            <line x1={px - 17} x2={px + 17} y1={yb} y2={yb} />
            <circle cx={px} cy={y(f)} r={7.5} fill={RED} stroke="none" />
          </g>
        );
      })}
      <rect x={x0} y={y0} width={x1 - x0} height={y1 - y0} fill="none" stroke="#111" strokeWidth={2.7} />
      <g stroke="#111" strokeWidth={tickW}>
        {yMinor.map((t, i) => {
          const yy = y(t.v);
          const len = t.major ? 17.5 : 11;
          return (
            <g key={i}>
              <line x1={x0} x2={x0 + len} y1={yy} y2={yy} />
              <line x1={x1} x2={x1 - len} y1={yy} y2={yy} />
            </g>
          );
        })}
        {xMinor.map((t, i) => {
          const xx = x(t.v);
          const len = t.major ? 15 : 8;
          return (
            <g key={i}>
              <line x1={xx} x2={xx} y1={y1} y2={y1 - len} />
              <line x1={xx} x2={xx} y1={y0} y2={y0 + len} />
            </g>
          );
        })}
      </g>
      <g fontFamily={FONT} fontSize={31} fill="#1a1a1a">
        {yTickVals.map((v, i) => (
          <text key={i} x={x0 - 13} y={y(v) + 15} textAnchor="end">
            {yTickLabels[i]}
          </text>
        ))}
        {p.xTicks.map((v, i) => (
          <text key={i} x={x(v) + 1} y={y1 + 46} textAnchor="middle">
            {p.xLabels[i]}
          </text>
        ))}
      </g>
      <g fontFamily={FONT} fontSize={28} fill={RED_TXT}>
        {p.counts.map((c, i) => (
          <text key={'c' + i} x={x(p.countX[i])} y={y0 + 596} textAnchor="end">
            {c}
          </text>
        ))}
        {p.dets.map((c, i) => (
          <text key={'d' + i} x={x(p.countX[i])} y={y0 + 624} textAnchor="end">
            {c}
          </text>
        ))}
        <text x={x(p.totX)} y={y0 + 596}>Tot</text>
        <text x={x(p.totX)} y={y0 + 624}>(%Det)</text>
      </g>
      <text
        fontFamily={FONT}
        fontSize={31}
        fill="#111"
        textAnchor="middle"
        transform={`translate(${x0 - 106},${cy}) rotate(-90)`}
      >
        {renderSegs(yTitleSegs)}
      </text>
      <text fontFamily={FONT} fontSize={31} fill="#111" textAnchor="middle" x={cx} y={y1 + 86}>
        {renderSegs(p.xTitle)}
      </text>
    </g>
  );
}

const boxes: Box[] = [
  { x0: 171, x1: 1017, y0: 56, y1: 716 },
  { x0: 1316, x1: 2162, y0: 56, y1: 716 },
  { x0: 171, x1: 1017, y0: 908, y1: 1568 },
  { x0: 1316, x1: 2162, y0: 908, y1: 1568 },
];

export default function App() {
  return (
    <div>
      <style>{'body{margin:0;padding:0;}'}</style>
      <svg width={W} height={H} viewBox={`0 0 ${W} ${H}`} style={{ display: 'block' }}>
        <rect x={0} y={0} width={W} height={H} fill="#ffffff" />
        <rect x={0} y={0} width={W} height={7} fill="#16163a" />
        <rect x={0} y={0} width={13} height={H} fill="#1a1a3e" />
        <Panel
          id="c1"
          box={boxes[0]}
          xDomain={[10, 11.6]}
          xMajor={0.5}
          xTicks={p1XTicks}
          xLabels={p1XLabels}
          scatter={p1Scatter}
          stackX={p1StackX}
          stackF={p1StackF}
          errLo={p1ErrLo}
          errHi={p1ErrHi}
          gassX={p1GassX}
          gassMed={p1GassMed}
          gassHi={p1GassHi}
          gassLo={p1GassLo}
          counts={p1Counts}
          dets={p1Det}
          countX={p1CountX}
          totX={p1TotX}
          xTitle={p1TitleSegs}
        />
        <Panel
          id="c2"
          box={boxes[1]}
          xDomain={[1.5, 4.0]}
          xMajor={0.5}
          xTicks={p2XTicks}
          xLabels={p2XLabels}
          scatter={p2Scatter}
          stackX={p2StackX}
          stackF={p2StackF}
          errLo={p2ErrLo}
          errHi={p2ErrHi}
          gassX={p2GassX}
          gassMed={p2GassMed}
          gassHi={p2GassHi}
          gassLo={p2GassLo}
          counts={p2Counts}
          dets={p2Det}
          countX={p2CountX}
          totX={p2TotX}
          xTitle={p2TitleSegs}
        />
        <Panel
          id="c3"
          box={boxes[2]}
          xDomain={[7.5, 10.0]}
          xMajor={0.5}
          xTicks={p3XTicks}
          xLabels={p3XLabels}
          scatter={p3Scatter}
          stackX={p3StackX}
          stackF={p3StackF}
          errLo={p3ErrLo}
          errHi={p3ErrHi}
          gassX={p3GassX}
          gassMed={p3GassMed}
          gassHi={p3GassHi}
          gassLo={p3GassLo}
          counts={p3Counts}
          dets={p3Det}
          countX={p3CountX}
          totX={p3TotX}
          xTitle={p3TitleSegs}
        />
        <Panel
          id="c4"
          box={boxes[3]}
          xDomain={[1, 8]}
          xMajor={1}
          xTicks={p4XTicks}
          xLabels={p4XLabels}
          scatter={p4Scatter}
          stackX={p4StackX}
          stackF={p4StackF}
          errLo={p4ErrLo}
          errHi={p4ErrHi}
          gassX={p4GassX}
          gassMed={p4GassMed}
          gassHi={p4GassHi}
          gassLo={p4GassLo}
          counts={p4Counts}
          dets={p4Det}
          countX={p4CountX}
          totX={p4TotX}
          xTitle={p4TitleSegs}
        />
        <g fontFamily={FONT} fontWeight="bold" fontSize={42} letterSpacing={3}>
          <text x={570} y={133} fill="#1d6b3a">GASS</text>
          <text x={570} y={190} fill="#df2522">ALFALFA STACKS</text>
        </g>
      </svg>
    </div>
  );
}
